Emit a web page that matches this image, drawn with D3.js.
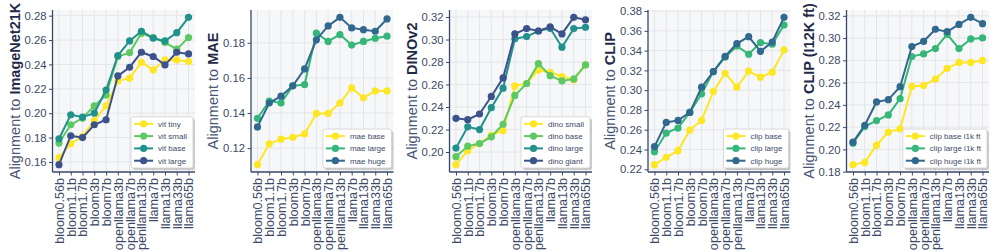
<!DOCTYPE html>
<html>
<head>
<meta charset="utf-8">
<script src="https://cdn.jsdelivr.net/npm/d3@7"></script>
<style>
  body { margin: 0; background: #fff; }
  svg { display: block; font-family: "Liberation Sans", Arial, sans-serif; }
</style>
</head>
<body>
<div id="graf"></div>
<script>
// modelos de lenguaje (eje x, comun a todos los paneles)
const modelos = ["bloom0.56b", "bloom1.1b", "bloom1.7b", "bloom3b", "bloom7b", "openllama3b",
  "openllama7b", "openllama13b", "llama7b", "llama13b", "llama33b", "llama65b"]

// ImageNet21K
const vitTiny = [0.1635, 0.175, 0.181, 0.194, 0.206, 0.2265, 0.2287, 0.2418, 0.2355, 0.2437, 0.2437, 0.2424]
const vitSmall = [0.1755, 0.1905, 0.196, 0.206, 0.215, 0.2465, 0.2497, 0.2655, 0.262, 0.258, 0.2525, 0.262]
const vitBase = [0.179, 0.1987, 0.1968, 0.2, 0.219, 0.2473, 0.2593, 0.2672, 0.2615, 0.2593, 0.266, 0.2786]
const vitLarge = [0.1578, 0.1815, 0.18, 0.1905, 0.1946, 0.2306, 0.2377, 0.25, 0.2465, 0.2396, 0.25, 0.2486]
const ticksVit = [0.16, 0.18, 0.2, 0.22, 0.24, 0.26, 0.28]

// MAE
const maeBase = [0.1106, 0.1225, 0.1251, 0.1262, 0.1281, 0.1398, 0.1398, 0.1457, 0.1543, 0.1487, 0.1526, 0.1526]
const maeLarge = [0.137, 0.1468, 0.1457, 0.1555, 0.1562, 0.1855, 0.1808, 0.1847, 0.1787, 0.1808, 0.1826, 0.1838]
const maeHuge = [0.1321, 0.1457, 0.1496, 0.1555, 0.1651, 0.1817, 0.1896, 0.1945, 0.1885, 0.1875, 0.1866, 0.1936]
const ticksMae = [0.12, 0.14, 0.16, 0.18]

// DINOv2
const dinoSmall = [0.1888, 0.2012, 0.2076, 0.215, 0.2191, 0.2588, 0.2609, 0.273, 0.2709, 0.2671, 0.2641, 0.2774]
const dinoBase = [0.1959, 0.2053, 0.2076, 0.2135, 0.2247, 0.2503, 0.2609, 0.2785, 0.2679, 0.2632, 0.265, 0.2774]
const dinoLarge = [0.2035, 0.2224, 0.22, 0.2394, 0.2568, 0.3006, 0.3026, 0.3076, 0.31, 0.2932, 0.3097, 0.3109]
const dinoGiant = [0.23, 0.2288, 0.2338, 0.2494, 0.2659, 0.305, 0.3097, 0.3076, 0.3112, 0.305, 0.3197, 0.3176]
const ticksDino = [0.2, 0.22, 0.24, 0.26, 0.28, 0.3, 0.32]

// CLIP
const clipBase = [0.2247, 0.2321, 0.2388, 0.2597, 0.2694, 0.2987, 0.3171, 0.303, 0.3192, 0.3131, 0.3182, 0.3407]
const clipLarge = [0.2378, 0.2566, 0.2617, 0.2775, 0.2963, 0.3188, 0.3333, 0.3447, 0.3363, 0.3481, 0.3464, 0.3659]
const clipHuge = [0.2429, 0.2674, 0.2694, 0.2775, 0.303, 0.3188, 0.3343, 0.3471, 0.3541, 0.3393, 0.3487, 0.3736]
const ticksClip = [0.22, 0.24, 0.26, 0.28, 0.3, 0.32, 0.34, 0.36, 0.38]

// CLIP (I12K ft)
const clipBaseFt = [0.1863, 0.1883, 0.2038, 0.2155, 0.2184, 0.2566, 0.2575, 0.2632, 0.2727, 0.2781, 0.2781, 0.2799]
const clipLargeFt = [0.2056, 0.2205, 0.2259, 0.231, 0.2456, 0.2834, 0.2858, 0.2906, 0.3034, 0.2906, 0.2992, 0.3001]
const clipHugeFt = [0.2065, 0.2217, 0.2426, 0.2447, 0.2563, 0.2924, 0.2971, 0.3079, 0.3058, 0.3123, 0.3186, 0.3129]
const ticksClipFt = [0.18, 0.2, 0.22, 0.24, 0.26, 0.28, 0.3, 0.32]

const paneles = [
  { nombre: "ImageNet21K", ticks: ticksVit, series: [["vit tiny", vitTiny], ["vit small", vitSmall], ["vit base", vitBase], ["vit large", vitLarge]] },
  { nombre: "MAE", ticks: ticksMae, series: [["mae base", maeBase], ["mae large", maeLarge], ["mae huge", maeHuge]] },
  { nombre: "DINOv2", ticks: ticksDino, series: [["dino small", dinoSmall], ["dino base", dinoBase], ["dino large", dinoLarge], ["dino giant", dinoGiant]] },
  { nombre: "CLIP", ticks: ticksClip, series: [["clip base", clipBase], ["clip large", clipLarge], ["clip huge", clipHuge]] },
  { nombre: "CLIP (I12K ft)", ticks: ticksClipFt, series: [["clip base i1k ft", clipBaseFt], ["clip large i1k ft", clipLargeFt], ["clip huge i1k ft", clipHugeFt]] }
]

const anchoTotal = 996
const altoTotal = 251
const arriba = 10
const abajo = 172
const anchoPanel = 142.5
const colorTexto = "#3d4a67"
const colorEje = "#3a4868"

const svg = d3.select("#graf")
  .append("svg")
  .attr("width", anchoTotal)
  .attr("height", altoTotal)

paneles.forEach((p, i) => {
  const izq = 52.5 + i * 198.5
  const der = izq + anchoPanel
  const g = svg.append("g")

  // escalas (margen 5% como matplotlib)
  const todos = p.series.flatMap(s => s[1])
  const [mn, mx] = d3.extent(todos)
  const pad = (mx - mn) * 0.05
  const x = d3.scalePoint().domain(modelos).range([izq, der]).padding(0.55)
  const y = d3.scaleLinear().domain([mn - pad, mx + pad]).range([abajo, arriba])

  g.append("rect")
    .attr("x", izq).attr("y", arriba)
    .attr("width", anchoPanel).attr("height", abajo - arriba)
    .attr("fill", "#f6f7f9")

  // rejilla
  g.append("g").selectAll("line").data(modelos).join("line")
    .attr("x1", d => x(d)).attr("x2", d => x(d))
    .attr("y1", arriba).attr("y2", abajo)
    .attr("stroke", "#e4e5e8").attr("stroke-width", 1)
  g.append("g").selectAll("line").data(p.ticks).join("line")
    .attr("x1", izq).attr("x2", der)
    .attr("y1", d => y(d)).attr("y2", d => y(d))
    .attr("stroke", "#e4e5e8").attr("stroke-width", 1)

  // ejes
  const ejeY = g.append("g")
    .attr("transform", `translate(${izq},0)`)
    .call(d3.axisLeft(y).tickValues(p.ticks).tickFormat(d3.format(".2f")).tickSize(3.5).tickSizeOuter(0).tickPadding(2.5))
  const ejeX = g.append("g")
    .attr("transform", `translate(0,${abajo})`)
    .call(d3.axisBottom(x).tickSize(3.5).tickSizeOuter(0).tickPadding(2.5))
  ejeX.select(".domain").attr("d", `M${izq},0H${der}`)
  ejeY.select(".domain").attr("d", `M0,${arriba}V${abajo}`)
  ;[ejeX, ejeY].forEach(e => {
    e.select(".domain").attr("stroke", colorEje).attr("stroke-width", 1.3)
    e.selectAll(".tick line").attr("stroke", colorEje).attr("stroke-width", 1)
    e.selectAll("text").attr("fill", colorTexto)
      .style("font-family", "'Liberation Sans', Arial, sans-serif")
  })
  ejeY.selectAll("text").style("font-size", "11.3px")
  ejeX.selectAll("text")
    .style("font-size", "12.6px")
    .attr("transform", "rotate(-90)")
    .attr("text-anchor", "end")
    .attr("x", -6).attr("y", 0).attr("dy", "0.35em")

  // titulo del eje y
  g.append("text")
    .attr("transform", `translate(${izq - 38},${(arriba + abajo) / 2}) rotate(-90)`)
    .attr("text-anchor", "middle")
    .attr("dy", "0.35em")
    .style("font-size", "14.5px")
    .attr("fill", "#4a5676")
    .call(t => {
      t.append("tspan").text("Alignment to ")
      t.append("tspan").text(p.nombre).attr("font-weight", "bold").attr("fill", "#1f2a48")
    })

  const n = p.series.length
  const colores = p.series.map((s, k) => d3.interpolateViridis(1 - k / n))
  const linea = d3.line().x((d, k) => x(modelos[k])).y(d => y(d))

  p.series.forEach((s, k) => {
    g.append("path")
      .attr("d", linea(s[1]))
      .attr("fill", "none")
      .attr("stroke", colores[k])
      .attr("stroke-width", 2)
    g.append("g").selectAll("circle").data(s[1]).join("circle")
      .attr("cx", (d, j) => x(modelos[j]))
      .attr("cy", d => y(d))
      .attr("r", 3.6)
      .attr("fill", colores[k])
  })

  // leyenda
  const leg = g.append("g")
  const textos = leg.selectAll("text").data(p.series).join("text")
    .text(d => d[0])
    .style("font-size", "8px")
    .attr("fill", colorTexto)
  const anchoTxt = d3.max(textos.nodes(), t => t.getComputedTextLength())
  const wLeg = 27 + anchoTxt + 6
  const hLeg = n * 12.3 + 2
  const lx = der - 2 - wLeg
  const ly = abajo - 4 - hLeg
  leg.insert("rect", "text")
    .attr("x", lx + 2).attr("y", ly + 2)
    .attr("width", wLeg).attr("height", hLeg).attr("rx", 2)
    .attr("fill", "#000").attr("opacity", 0.18)
  leg.insert("rect", "text")
    .attr("x", lx).attr("y", ly)
    .attr("width", wLeg).attr("height", hLeg).attr("rx", 2)
    .attr("fill", "#fff").attr("stroke", "#d0d0d0").attr("stroke-width", 0.8)
  textos
    .attr("x", lx + 27)
    .attr("y", (d, k) => ly + 7 + k * 12.3)
    .attr("dy", "0.35em")
  p.series.forEach((s, k) => {
    const yy = ly + 7 + k * 12.3
    leg.append("line")
      .attr("x1", lx + 3).attr("x2", lx + 22)
      .attr("y1", yy).attr("y2", yy)
      .attr("stroke", colores[k]).attr("stroke-width", 2)
    leg.append("circle")
      .attr("cx", lx + 12.5).attr("cy", yy).attr("r", 3.6)
      .attr("fill", colores[k])
  })
})
</script>
</body>
</html>
